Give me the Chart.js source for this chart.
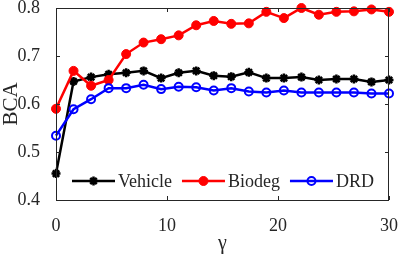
<html>
  <head>
    <script src="https://cdn.jsdelivr.net/npm/chart.js@4.4.1/dist/chart.umd.min.js"></script>
    <style>
      body { margin: 0; background: #fff; }
    </style>
  </head>
  <body>
    <canvas id="chart" width="399" height="257"></canvas>
  </body>

  <script>
    var gammas = [0, 1.58, 3.16, 4.74, 6.32, 7.89, 9.47, 11.05, 12.63, 14.21, 15.79, 17.37, 18.95, 20.53, 22.11, 23.68, 25.26, 26.84, 28.42, 30];
    var vehicle = [0.455, 0.647, 0.656, 0.662, 0.665, 0.669, 0.654, 0.665, 0.669, 0.659, 0.657, 0.666, 0.654, 0.654, 0.656, 0.650, 0.652, 0.652, 0.646, 0.650];
    var biodeg = [0.590, 0.669, 0.638, 0.650, 0.704, 0.728, 0.735, 0.743, 0.764, 0.773, 0.767, 0.768, 0.792, 0.779, 0.800, 0.786, 0.792, 0.793, 0.797, 0.792];
    var drd = [0.534, 0.589, 0.610, 0.633, 0.633, 0.640, 0.631, 0.636, 0.635, 0.628, 0.633, 0.626, 0.624, 0.628, 0.624, 0.624, 0.624, 0.624, 0.622, 0.622];
    var xTicks = [0, 10, 20, 30];
    var yTicks = [0.4, 0.5, 0.6, 0.7, 0.8];

    var FONT = "'Liberation Serif', 'Times New Roman', serif";
    var INK = "#262626";

    function pts(ys) {
      return gammas.map(function(x, i) { return {x: x, y: ys[i]}; });
    }

    // box round the plot with inward tick marks, and the legend inside the axes
    var frame = {
      id: 'frame',
      afterDraw: function(chart) {
        var ctx = chart.ctx, a = chart.chartArea;
        var xs = chart.scales.x, ys = chart.scales.y;
        ctx.save();
        ctx.strokeStyle = INK;
        ctx.lineWidth = 1;
        ctx.strokeRect(a.left + 0.5, a.top + 0.5, a.right - a.left - 1, a.bottom - a.top);
        ctx.beginPath();
        xTicks.forEach(function(v) {
          var px = Math.round(xs.getPixelForValue(v)) + 0.5;
          ctx.moveTo(px, a.bottom); ctx.lineTo(px, a.bottom - 4);
          ctx.moveTo(px, a.top); ctx.lineTo(px, a.top + 4);
        });
        yTicks.forEach(function(v) {
          var py = Math.round(ys.getPixelForValue(v)) + 0.5;
          ctx.moveTo(a.left, py); ctx.lineTo(a.left + 4, py);
          ctx.moveTo(a.right, py); ctx.lineTo(a.right - 4, py);
        });
        ctx.stroke();

        // legend
        var x = 72, y = 181;
        ctx.font = "18px " + FONT;
        ctx.textBaseline = 'middle';
        chart.data.datasets.forEach(function(ds) {
          ctx.strokeStyle = ds.borderColor;
          ctx.lineWidth = ds.borderWidth;
          ctx.beginPath();
          ctx.moveTo(x, y); ctx.lineTo(x + 43, y);
          ctx.stroke();
          ctx.fillStyle = ds.pointBackgroundColor;
          ctx.strokeStyle = ds.pointBorderColor;
          ctx.lineWidth = ds.pointBorderWidth;
          Chart.helpers.drawPoint(ctx, {
            pointStyle: ds.pointStyle, radius: ds.pointRadius, borderWidth: ds.pointBorderWidth, rotation: 0
          }, x + 21.5, y);
          ctx.fillStyle = INK;
          ctx.fillText(ds.label, x + 46, y + 1);
          x += 46 + ctx.measureText(ds.label).width + 10;
        });
        ctx.restore();
      }
    };

    new Chart(document.getElementById('chart'), {
      type: 'line',
      data: {
        datasets: [
          {
            label: 'Vehicle', data: pts(vehicle), order: 2,
            borderColor: '#000000', backgroundColor: '#000000', borderWidth: 2.5,
            pointStyle: 'star', pointRadius: 4.5, pointBorderWidth: 2.5,
            pointBackgroundColor: '#000000', pointBorderColor: '#000000', clip: false
          },
          {
            label: 'Biodeg', data: pts(biodeg), order: 1,
            borderColor: '#ff0000', backgroundColor: '#ff0000', borderWidth: 2.5,
            pointStyle: 'circle', pointRadius: 4.5, pointBorderWidth: 1,
            pointBackgroundColor: '#ff0000', pointBorderColor: '#ff0000', clip: false
          },
          {
            label: 'DRD', data: pts(drd), order: 0,
            borderColor: '#0000ff', backgroundColor: '#0000ff', borderWidth: 2.5,
            pointStyle: 'circle', pointRadius: 4, pointBorderWidth: 2,
            pointBackgroundColor: 'transparent', pointBorderColor: '#0000ff', clip: false
          }
        ]
      },
      options: {
        responsive: false,
        animation: false,
        events: [],
        layout: { padding: { top: 8, right: 10, left: 0, bottom: 0 } },
        plugins: { legend: { display: false }, tooltip: { enabled: false } },
        scales: {
          x: {
            type: 'linear', min: 0, max: 30,
            afterFit: function(s) { s.height = 57; s.paddingLeft = 0; s.paddingRight = 0; },
            afterBuildTicks: function(s) { s.ticks = xTicks.map(function(v) { return {value: v}; }); },
            grid: { display: false },
            border: { display: false },
            ticks: { color: INK, font: { family: FONT, size: 18 }, padding: 7, maxRotation: 0 },
            title: { display: true, text: 'γ', color: INK, font: { family: FONT, size: 20 }, padding: { top: 0, bottom: 1 } }
          },
          y: {
            min: 0.4, max: 0.8,
            afterFit: function(s) { s.width = 56; s.paddingTop = 0; s.paddingBottom = 0; },
            afterBuildTicks: function(s) { s.ticks = yTicks.map(function(v) { return {value: v}; }); },
            grid: { display: false },
            border: { display: false },
            ticks: { color: INK, font: { family: FONT, size: 18 }, padding: 8,
              callback: function(v) { return v.toFixed(1); } },
            title: { display: true, text: 'BCA', color: INK, font: { family: FONT, size: 21, lineHeight: 1 }, padding: { top: 1, bottom: 0 } }
          }
        }
      },
      plugins: [frame]
    });
  </script>
</html>
